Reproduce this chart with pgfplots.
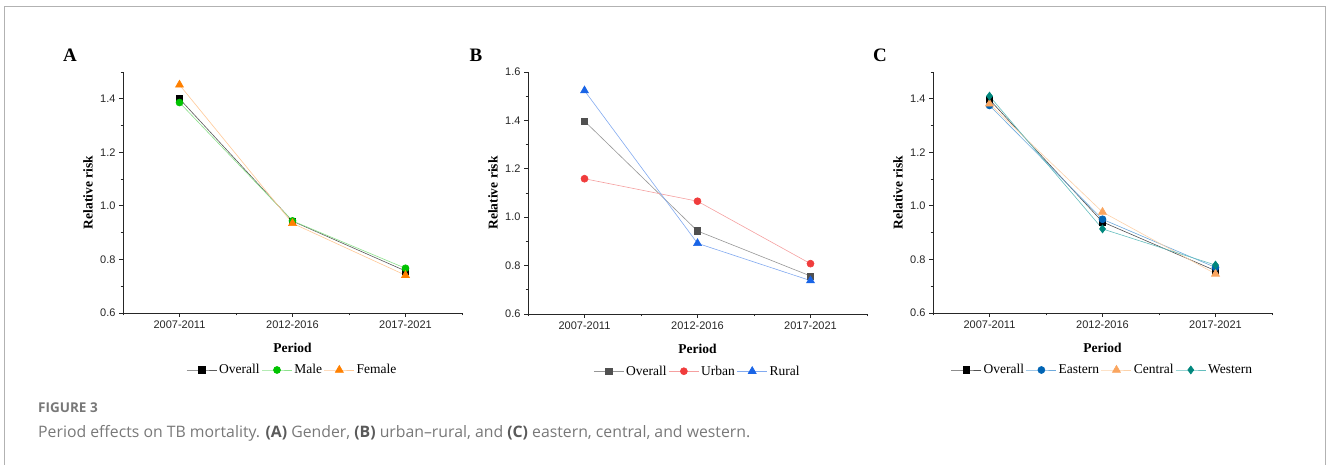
\documentclass[border=0pt]{standalone}
\usepackage{pgfplots}
\pgfplotsset{compat=1.18}
\usepackage{fontspec}
\setmainfont{Liberation Serif}
\newfontfamily\arialf{Liberation Sans}
\newfontfamily\capfont{Open Sans}

% colours
\definecolor{aOvM}{RGB}{0,0,0}
\definecolor{aOvL}{RGB}{90,90,90}
\definecolor{aMaM}{RGB}{0,195,0}
\definecolor{aMaL}{RGB}{140,225,140}
\definecolor{aFeM}{RGB}{255,128,0}
\definecolor{aFeL}{RGB}{255,200,150}
\definecolor{bOvM}{RGB}{80,80,80}
\definecolor{bOvL}{RGB}{150,150,150}
\definecolor{bUrM}{RGB}{240,60,60}
\definecolor{bUrL}{RGB}{245,160,160}
\definecolor{bRuM}{RGB}{25,100,230}
\definecolor{bRuL}{RGB}{130,170,240}
\definecolor{cOvM}{RGB}{0,0,0}
\definecolor{cOvL}{RGB}{80,80,80}
\definecolor{cEaM}{RGB}{0,100,180}
\definecolor{cEaL}{RGB}{110,170,220}
\definecolor{cCeM}{RGB}{250,165,95}
\definecolor{cCeL}{RGB}{252,210,170}
\definecolor{cWeM}{RGB}{0,135,125}
\definecolor{cWeL}{RGB}{100,190,190}
\definecolor{capgrey}{RGB}{120,120,120}
\definecolor{capdark}{RGB}{90,90,90}

\pgfplotsset{
  panel/.style={
    scale only axis, width=339pt, height=241pt,
    axis lines*=left,
    axis line style={line width=0.8pt, black!85},
    xmin=-0.5, xmax=2.5,
    xtick={0,1,2}, xticklabels={2007-2011,2012-2016,2017-2021},
    minor xtick={-0.5,0.5,1.5,2.5},
    ymin=0.6, ytick distance=0.2, minor y tick num=1,
    tick align=outside,
    tick style={black!85, line width=0.8pt},
    major tick length=4pt, minor tick length=2.5pt,
    ticklabel style={font=\arialf\fontsize{11}{13}\selectfont, text=black!85},
    /pgf/number format/assume math mode=true,
    yticklabel style={/pgf/number format/.cd, fixed, fixed zerofill, precision=1},
    xlabel={Period}, ylabel={Relative risk},
    label style={font=\bfseries\fontsize{13.5}{15}\selectfont},
    xlabel style={at={(axis description cs:0.5,-0.145)}, anchor=center},
    ylabel style={at={(axis description cs:-0.103,0.5)}, anchor=center},
    legend style={draw=none, fill=none, at={(0.5,-0.2365)}, anchor=center,
      legend columns=-1, font=\fontsize{13.5}{15}\selectfont, inner sep=0pt,
      /tikz/every even column/.append style={column sep=0pt}},
    legend image code/.code={\draw[mark repeat=2,mark phase=2] plot coordinates {(0pt,0pt)(15pt,0pt)(30pt,0pt)};},
    clip=false,
  },
  ser/.style n args={3}{color=#1, line width=0.6pt, mark=#3, mark options={solid, fill=#2, draw=#2}},
}

\begin{document}
\begin{tikzpicture}[x=1pt,y=1pt]
\path (0,0) rectangle (1328,465);
\draw[color=black!30, line width=1pt] (4.5,0) -- (4.5,458) -- (1325.5,458) -- (1325.5,0);

% Panel A
\begin{axis}[panel, at={(123pt,152pt)}, anchor=south west, ymax=1.5]
\addplot[ser={aOvL}{aOvM}{square*}, mark size=3.2pt] coordinates {(0,1.400) (1,0.943) (2,0.757)};
\addlegendentry{Overall}
\addplot[ser={aMaL}{aMaM}{*}, mark size=3.5pt] coordinates {(0,1.386) (1,0.944) (2,0.767)};
\addlegendentry{Male}
\addplot[ser={aFeL}{aFeM}{triangle*}, mark size=4.6pt] coordinates {(0,1.452) (1,0.935) (2,0.741)};
\addlegendentry{Female}
\end{axis}

% Panel B
\begin{axis}[panel, at={(528pt,151pt)}, anchor=south west, ymax=1.6, height=242pt]
\addplot[ser={bOvL}{bOvM}{square*}, mark size=3.2pt] coordinates {(0,1.397) (1,0.943) (2,0.757)};
\addlegendentry{Overall}
\addplot[ser={bUrL}{bUrM}{*}, mark size=3.5pt] coordinates {(0,1.159) (1,1.066) (2,0.808)};
\addlegendentry{Urban}
\addplot[ser={bRuL}{bRuM}{triangle*}, mark size=4.6pt] coordinates {(0,1.523) (1,0.892) (2,0.738)};
\addlegendentry{Rural}
\end{axis}

% Panel C
\begin{axis}[panel, at={(933pt,152pt)}, anchor=south west, ymax=1.5]
\addplot[ser={cOvL}{cOvM}{square*}, mark size=3.2pt] coordinates {(0,1.397) (1,0.940) (2,0.758)};
\addlegendentry{Overall}
\addplot[ser={cEaL}{cEaM}{*}, mark size=3.5pt] coordinates {(0,1.375) (1,0.950) (2,0.770)};
\addlegendentry{Eastern}
\addplot[ser={cCeL}{cCeM}{triangle*}, mark size=4.6pt] coordinates {(0,1.381) (1,0.977) (2,0.746)};
\addlegendentry{Central}
\addplot[ser={cWeL}{cWeM}{diamond*}, mark size=4pt] coordinates {(0,1.410) (1,0.914) (2,0.779)};
\addlegendentry{Western}
\end{axis}

% panel letters
\node[font=\bfseries\fontsize{19}{21}\selectfont] at (70,410) {A};
\node[font=\bfseries\fontsize{19}{21}\selectfont] at (476,410) {B};
\node[font=\bfseries\fontsize{19}{21}\selectfont] at (880,410) {C};

% caption
\node[anchor=west, inner sep=0pt, text=capgrey, font=\capfont\bfseries\fontsize{13.5}{15}\selectfont] at (38,57) {FIGURE 3};
\node[anchor=west, inner sep=0pt, text=capgrey, font=\capfont\fontsize{15.8}{18}\selectfont] at (38,32)
 {Period effects on TB mortality. {\color{capdark}\bfseries (A)} Gender, {\color{capdark}\bfseries (B)} urban–rural, and {\color{capdark}\bfseries (C)} eastern, central, and western.};
\end{tikzpicture}
\end{document}
